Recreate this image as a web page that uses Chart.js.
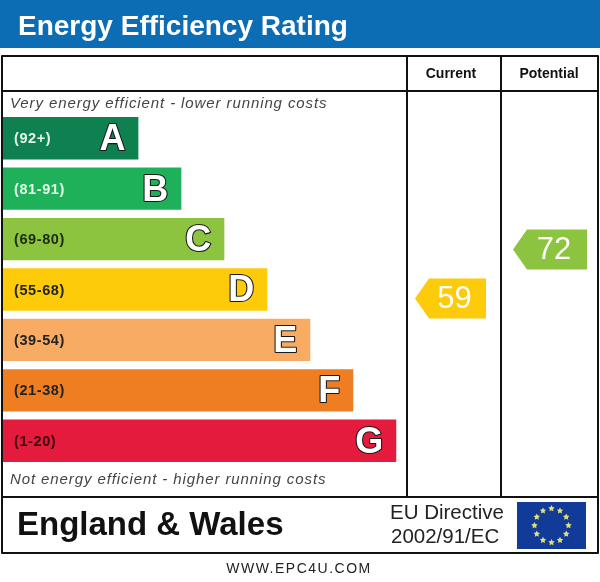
<!DOCTYPE html>
<html>
<head>
<meta charset="utf-8">
<title>Energy Efficiency Rating</title>
<script src="https://cdn.jsdelivr.net/npm/chart.js@4"></script>
<style>
  html, body { margin: 0; padding: 0; background: #fff; }
  #epc { display: block; }
</style>
</head>
<body>
<canvas id="epc" width="600" height="582"></canvas>
<script>
// Rating bands, top (most efficient) to bottom
const bandLetters = ['A', 'B', 'C', 'D', 'E', 'F', 'G'];
const bandRanges = ['(92+)', '(81-91)', '(69-80)', '(55-68)', '(39-54)', '(21-38)', '(1-20)'];
const bandMin = [92, 81, 69, 55, 39, 21, 1];
const bandMax = [100, 91, 80, 68, 54, 38, 20];
const bandLengths = [3.15, 4.15, 5.15, 6.15, 7.15, 8.15, 9.15];
const bandColors = ['#0f8050', '#1eb159', '#8cc43f', '#fecb0b', '#f8ab63', '#ef7d22', '#e41b3d'];
const rangeTextColors = ['#e6f7ea', '#e6f7ea', '#1c2a10', '#222', '#222', '#222', '#3a0a10'];

// The two ratings shown in the right hand columns
const currentRating = 59;
const potentialRating = 72;

const FONT = '"Liberation Sans", Arial, sans-serif';

function bandIndex(rating) {
  for (let i = 0; i < bandMin.length; i++) {
    if (rating >= bandMin[i]) return i;
  }
  return bandMin.length - 1;
}

function drawArrow(ctx, tipX, rightX, cy, color, label) {
  const h = 20;
  const tip = 14;
  ctx.save();
  ctx.fillStyle = color;
  ctx.beginPath();
  ctx.moveTo(tipX, cy);
  ctx.lineTo(tipX + tip, cy - h);
  ctx.lineTo(rightX, cy - h);
  ctx.lineTo(rightX, cy + h);
  ctx.lineTo(tipX + tip, cy + h);
  ctx.closePath();
  ctx.fill();
  ctx.fillStyle = '#fff';
  ctx.font = '31px ' + FONT;
  ctx.textAlign = 'center';
  ctx.textBaseline = 'middle';
  ctx.fillText(label, (tipX + tip + rightX) / 2 - 3, cy + 1);
  ctx.restore();
}

function drawEuFlag(ctx, x, y, w, h) {
  ctx.save();
  ctx.fillStyle = '#123a99';
  ctx.fillRect(x, y, w, h);
  const cx = x + w / 2, cy = y + h / 2, r = 17;
  ctx.fillStyle = '#dfe070';
  for (let i = 0; i < 12; i++) {
    const a = i * Math.PI / 6;
    const sx = cx + r * Math.cos(a), sy = cy + r * Math.sin(a);
    ctx.beginPath();
    for (let k = 0; k < 10; k++) {
      const rr = k % 2 === 0 ? 3.4 : 1.7;
      const aa = -Math.PI / 2 + k * Math.PI / 5;
      ctx.lineTo(sx + rr * Math.cos(aa), sy + rr * Math.sin(aa));
    }
    ctx.closePath();
    ctx.fill();
  }
  ctx.restore();
}

const epcFrame = {
  id: 'epcFrame',
  beforeDraw(chart) {
    const ctx = chart.ctx;
    ctx.save();
    ctx.fillStyle = '#fff';
    ctx.fillRect(0, 0, chart.width, chart.height);

    // title bar
    ctx.fillStyle = '#0c6db5';
    ctx.fillRect(0, 0, chart.width, 48);
    ctx.fillStyle = '#fff';
    ctx.font = 'bold 28px ' + FONT;
    ctx.textBaseline = 'alphabetic';
    ctx.fillText('Energy Efficiency Rating', 18, 35);

    // column headers
    ctx.fillStyle = '#111';
    ctx.font = 'bold 14px ' + FONT;
    ctx.textAlign = 'center';
    ctx.textBaseline = 'middle';
    ctx.fillText('Current', 451, 74);
    ctx.fillText('Potential', 549, 74);

    // top/bottom captions
    ctx.textAlign = 'left';
    ctx.fillStyle = '#444';
    ctx.font = 'italic 15px ' + FONT;
    ctx.letterSpacing = '0.9px';
    ctx.fillText('Very energy efficient - lower running costs', 10, 104);
    ctx.fillText('Not energy efficient - higher running costs', 10, 480);
    ctx.letterSpacing = '0px';

    // footer
    ctx.fillStyle = '#111';
    ctx.font = 'bold 33px ' + FONT;
    ctx.fillText('England & Wales', 17, 526);
    ctx.fillStyle = '#222';
    ctx.font = '20.5px ' + FONT;
    ctx.fillText('EU Directive', 390, 513);
    ctx.fillText('2002/91/EC', 391, 537);
    drawEuFlag(ctx, 517, 502, 69, 47);

    ctx.font = '14px ' + FONT;
    ctx.letterSpacing = '1.5px';
    ctx.textAlign = 'center';
    ctx.fillText('WWW.EPC4U.COM', 299, 569);
    ctx.restore();
  },
  afterDraw(chart) {
    const ctx = chart.ctx;
    const meta = chart.getDatasetMeta(0);
    const yScale = chart.scales.y;
    ctx.save();

    // band labels
    meta.data.forEach((bar, i) => {
      ctx.textBaseline = 'middle';
      ctx.textAlign = 'left';
      ctx.fillStyle = rangeTextColors[i];
      ctx.font = 'bold 14.5px ' + FONT;
      ctx.letterSpacing = '0.6px';
      ctx.fillText(bandRanges[i], 14, bar.y + 1);

      ctx.letterSpacing = '0px';
      ctx.textAlign = 'right';
      ctx.font = 'bold 36px ' + FONT;
      ctx.lineWidth = 2.2;
      ctx.strokeStyle = '#1a1a1a';
      ctx.lineJoin = 'round';
      ctx.strokeText(bandLetters[i], bar.x - 13, bar.y + 2);
      ctx.fillStyle = '#fff';
      ctx.fillText(bandLetters[i], bar.x - 13, bar.y + 2);
    });

    // table lines
    ctx.strokeStyle = '#111';
    ctx.lineWidth = 2;
    ctx.beginPath();
    ctx.rect(2, 56, 596, 497);
    ctx.moveTo(2, 91); ctx.lineTo(598, 91);
    ctx.moveTo(407, 56); ctx.lineTo(407, 497);
    ctx.moveTo(501, 56); ctx.lineTo(501, 497);
    ctx.moveTo(2, 497); ctx.lineTo(598, 497);
    ctx.stroke();

    // rating arrows, placed inside their band by value
    const ratingY = (rating) => {
      const i = bandIndex(rating);
      const frac = (bandMax[i] - rating + 0.5) / (bandMax[i] - bandMin[i] + 1);
      return yScale.getPixelForValue(i - 0.5 + frac);
    };
    const ci = bandIndex(currentRating);
    const pi = bandIndex(potentialRating);
    drawArrow(ctx, 415, 486, ratingY(currentRating), bandColors[ci], String(currentRating));
    drawArrow(ctx, 513, 587, ratingY(potentialRating), bandColors[pi], String(potentialRating));
    ctx.restore();
  }
};

new Chart(document.getElementById('epc'), {
  type: 'bar',
  data: {
    labels: bandLetters,
    datasets: [{
      data: bandLengths,
      backgroundColor: bandColors,
      borderWidth: 0,
      barPercentage: 0.84,
      categoryPercentage: 1.0
    }]
  },
  options: {
    indexAxis: 'y',
    responsive: false,
    animation: false,
    events: [],
    layout: { padding: { left: 3, right: 193, top: 113, bottom: 116 } },
    scales: {
      x: { display: false, min: 0, max: 9.4 },
      y: { display: false }
    },
    plugins: {
      legend: { display: false },
      tooltip: { enabled: false }
    }
  },
  plugins: [epcFrame]
});
</script>
</body>
</html>
